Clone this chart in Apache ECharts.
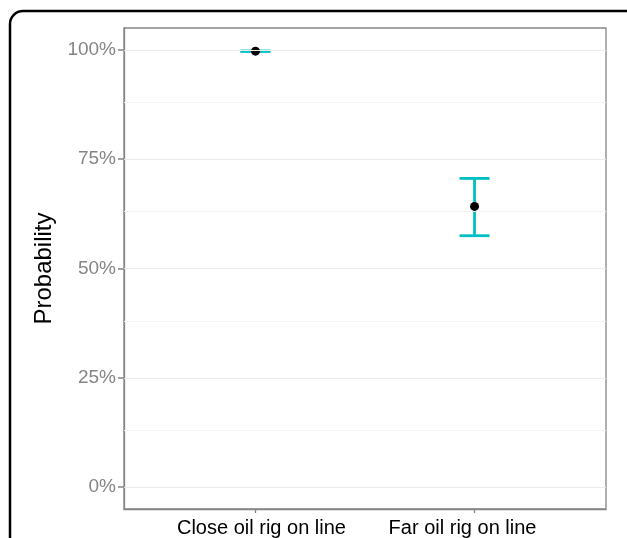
<!DOCTYPE html>
<html>
<head>
<meta charset="utf-8">
<script src="https://cdn.jsdelivr.net/npm/echarts@6/dist/echarts.min.js"></script>
<style>
  html, body { margin: 0; padding: 0; background: #fff; }
  #chart { width: 627px; height: 538px; }
</style>
</head>
<body>
<div id="chart"></div>
<script>
    // values
    const categories = ['Close oil rig on line', 'Far oil rig on line']
    const probMean = [0.997, 0.642]
    const probLower = [0.9965, 0.575]
    const probUpper = [0.9975, 0.706]
    const yTicks = [0, 0.25, 0.5, 0.75, 1]
    const yMinor = [0.125, 0.375, 0.625, 0.875]

    const teal = '#00BFC4'
    const axisGrey = '#858585'
    const chart = echarts.init(document.getElementById('chart'), null, { renderer: 'canvas' })

    const barData = categories.map((c, i) => [i + 1, probLower[i], probUpper[i]])
    const pointData = categories.map((c, i) => [i + 1, probMean[i]])

    const gridLines = []
    yTicks.forEach(v => gridLines.push({ yAxis: v, lineStyle: { color: '#EBEBEB', width: 1.2, type: 'solid' } }))
    yMinor.forEach(v => gridLines.push({ yAxis: v, lineStyle: { color: '#F3F3F3', width: 1, type: 'solid' } }))

    chart.setOption({
        animation: false,
        graphic: [{
            type: 'rect',
            shape: { x: 10, y: 11, width: 640, height: 620, r: 13 },
            style: { fill: 'none', stroke: '#000', lineWidth: 2.5 },
            z: 100
        }],
        grid: {
            left: 124,
            right: 21,
            top: 28,
            bottom: 28,
            show: true,
            borderColor: axisGrey,
            borderWidth: 1.3,
            backgroundColor: '#fff'
        },
        xAxis: {
            type: 'value',
            min: 0.4,
            max: 2.6,
            axisLine: { show: true, onZero: false, lineStyle: { color: axisGrey, width: 1.3 } },
            splitLine: { show: false },
            axisTick: {
                show: true,
                customValues: [1, 2],
                length: 4,
                lineStyle: { color: axisGrey, width: 1.3 }
            },
            axisLabel: {
                customValues: [1, 2],
                formatter: v => (Math.round(v) === 1 ? '{a|' : '{b|') + categories[Math.round(v) - 1] + '}',
                color: '#000',
                fontSize: 20,
                fontFamily: 'Liberation Sans, Arial, sans-serif',
                margin: 9,
                rich: {
                    a: { fontSize: 20, color: '#000', padding: [0, 0, 0, 12] },
                    b: { fontSize: 20, color: '#000', padding: [0, 24, 0, 0] }
                }
            }
        },
        yAxis: {
            type: 'value',
            min: -0.05,
            max: 1.05,
            name: 'Probability',
            nameLocation: 'middle',
            nameRotate: 90,
            nameGap: 67,
            nameTextStyle: {
                color: '#000',
                fontSize: 24,
                fontFamily: 'Liberation Sans, Arial, sans-serif'
            },
            axisLine: { show: true, onZero: false, lineStyle: { color: axisGrey, width: 1.3 } },
            splitLine: { show: false },
            axisTick: {
                show: true,
                customValues: yTicks,
                length: 6,
                lineStyle: { color: axisGrey, width: 1.5 }
            },
            axisLabel: {
                customValues: yTicks,
                formatter: v => Math.round(v * 100) + '%',
                color: axisGrey,
                fontSize: 19,
                fontFamily: 'Liberation Sans, Arial, sans-serif',
                margin: 8
            }
        },
        series: [
            {
                type: 'line',
                data: [],
                z: 1,
                silent: true,
                markLine: {
                    silent: true,
                    symbol: ['none', 'none'],
                    label: { show: false },
                    data: gridLines
                }
            },
            {
                type: 'custom',
                z: 3,
                data: barData,
                renderItem: (params, api) => {
                    const x = api.value(0)
                    const lo = api.coord([x, api.value(1)])
                    const hi = api.coord([x, api.value(2)])
                    const half = 15
                    const style = { stroke: teal, lineWidth: 2.8 }
                    return {
                        type: 'group',
                        children: [
                            { type: 'line', shape: { x1: lo[0], y1: lo[1], x2: hi[0], y2: hi[1] }, style },
                            { type: 'line', shape: { x1: hi[0] - half, y1: hi[1], x2: hi[0] + half, y2: hi[1] }, style },
                            { type: 'line', shape: { x1: lo[0] - half, y1: lo[1], x2: lo[0] + half, y2: lo[1] }, style }
                        ]
                    }
                }
            },
            {
                type: 'scatter',
                z: 4,
                data: pointData,
                symbol: 'circle',
                symbolSize: 9,
                itemStyle: { color: '#000', opacity: 1 }
            }
        ]
    })
</script>
</body>
</html>
